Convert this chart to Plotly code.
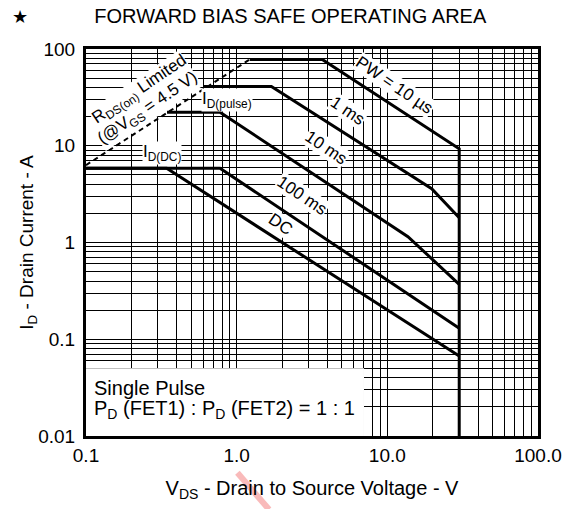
import math
import plotly.graph_objects as go

# SOA curves (V_DS in V, I_D in A)
RDS_V = [0.1, 1.22]
RDS_I = [6.3, 78]

PW10US_V = [1.22, 3.7, 30, 30]
PW10US_I = [78, 78, 9.3, 0.01]
PW1MS_V = [0.6, 1.7, 19.7, 30]
PW1MS_I = [41, 41, 3.6, 1.8]
PW10MS_V = [0.345, 0.775, 13.7, 30]
PW10MS_I = [22.2, 22.2, 1.15, 0.37]
PW100MS_V = [0.1, 0.775, 30]
PW100MS_I = [5.85, 5.85, 0.13]
DC_V = [0.1, 0.343, 30]
DC_I = [5.85, 5.85, 0.067]

X_DECADES = [0.1, 1, 10, 100]
X_TICK_LABELS = ["0.1", "1.0", "10.0", "100.0"]
Y_DECADES = [0.01, 0.1, 1, 10, 100]
Y_TICK_LABELS = ["0.01", "0.1", "1", "10", "100"]

# curve labels: text, V, I, angle, size
LABELS = [
    ("(@V<sub>GS</sub> = 4.5 V)", 0.257, 24, -34, 17),
    ("R<sub>DS(on)</sub> Limited", 0.228, 38, -34, 17),
    ("I<sub>D(pulse)</sub>", 0.86, 29.5, 0, 17),
    ("I<sub>D(DC)</sub>", 0.32, 8.5, 0, 17),
    ("PW = 10 µs", 11.2, 42, 34, 17),
    ("1 ms", 5.4, 23, 34, 17),
    ("10 ms", 3.9, 9.6, 34, 17),
    ("100 ms", 2.7, 3.05, 34, 17),
    ("DC", 1.96, 1.52, 34, 17),
]

FONT = "Arial, Liberation Sans, sans-serif"


def log_grid(decades):
    vals = []
    for i, d in enumerate(decades):
        if i == len(decades) - 1:
            vals.append(d)
            continue
        for k in range(1, 10):
            vals.append(d * k)
    return vals, [""] * len(vals)


xv, xt = log_grid(X_DECADES)
for d, lab in zip(X_DECADES, X_TICK_LABELS):
    xt[xv.index(d)] = lab
yv, yt = log_grid(Y_DECADES)
for d, lab in zip(Y_DECADES, Y_TICK_LABELS):
    yt[yv.index(d)] = lab

fig = go.Figure()

fig.add_trace(go.Scatter(x=RDS_V, y=RDS_I, mode="lines",
                         line=dict(color="black", width=2, dash="5px,4px")))
for vx, iy in [(PW10US_V, PW10US_I), (PW1MS_V, PW1MS_I), (PW10MS_V, PW10MS_I),
               (PW100MS_V, PW100MS_I), (DC_V, DC_I)]:
    fig.add_trace(go.Scatter(x=vx, y=iy, mode="lines",
                             line=dict(color="black", width=3)))

# white box behind the note, covers grid but not curves
fig.add_shape(type="rect", xref="x", yref="y", x0=0.1, x1=7, y0=0.01, y1=0.05,
              fillcolor="white", line=dict(width=0), layer="between")

# faint red stroke seen under the x title in the scan
fig.add_shape(type="line", xref="paper", yref="paper", x0=0.335, y0=-0.095,
              x1=0.405, y1=-0.19, line=dict(color="rgba(240,90,90,0.42)", width=6),
              layer="below")

# annotation positions on log axes are given in log10 units
for text, x, y, ang, size in LABELS:
    fig.add_annotation(x=math.log10(x), y=math.log10(y), text=text, showarrow=False,
                       textangle=ang, bgcolor="white", borderpad=0,
                       font=dict(family=FONT, size=size, color="black"))

fig.add_annotation(x=math.log10(0.109), y=math.log10(0.0313), text="Single Pulse",
                   xanchor="left", showarrow=False,
                   font=dict(family=FONT, size=20, color="black"))
fig.add_annotation(x=math.log10(0.109), y=math.log10(0.0186),
                   text="P<sub>D</sub> (FET1) : P<sub>D</sub> (FET2) = 1 : 1",
                   xanchor="left", showarrow=False,
                   font=dict(family=FONT, size=20, color="black"))

fig.add_annotation(xref="paper", yref="paper", x=-0.168, y=1.113, text="★",
                   showarrow=False, font=dict(family=FONT, size=18, color="black"))

axis_common = dict(
    type="log", automargin=False,
    showgrid=True, gridcolor="black", gridwidth=1.2,
    showline=True, mirror=True, linecolor="black", linewidth=3,
    ticks="", zeroline=False,
    tickfont=dict(family=FONT, size=19, color="black"),
)

fig.update_layout(
    width=567, height=509,
    margin=dict(l=86, r=29, t=49, b=73),
    paper_bgcolor="white", plot_bgcolor="white",
    showlegend=False,
    title=dict(text="FORWARD BIAS SAFE OPERATING AREA", x=0.512, y=0.969,
               xanchor="center", yanchor="middle",
               font=dict(family=FONT, size=20, color="black")),
    xaxis=dict(axis_common, range=[-1, 2], tickmode="array", tickvals=xv, ticktext=xt,
               ticklabelstandoff=0,
               title=dict(text="V<sub>DS</sub> - Drain to Source Voltage - V", standoff=17,
                          font=dict(family=FONT, size=20, color="black"))),
    yaxis=dict(axis_common, range=[-2, 2], tickmode="array", tickvals=yv, ticktext=yt,
               ticklabelstandoff=4,
               title=dict(text="I<sub>D</sub> - Drain Current - A", standoff=0,
                          font=dict(family=FONT, size=19, color="black"))),
)

# drop the default 8px body margin so the figure fills the window exactly
fig.write_html("out.html", config={"displayModeBar": False},
               post_script="document.body.style.margin='0';")
